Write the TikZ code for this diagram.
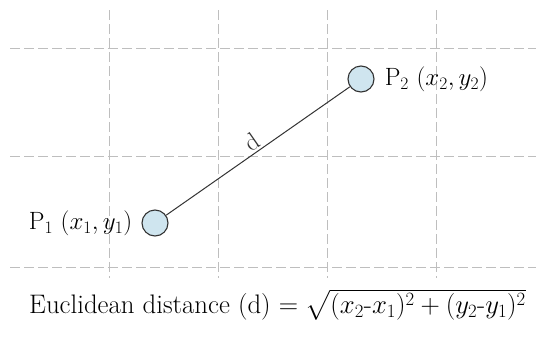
\RequirePackage{fix-cm}
\documentclass[tikz,border=0pt]{standalone}
\usepackage{amsmath}
\usetikzlibrary{positioning}
\definecolor{ptfill}{HTML}{CFE5EF}
\definecolor{gridgray}{HTML}{BEBEBE}

\begin{document}
\begin{tikzpicture}[x=1pt, y=-1pt,
  gridline/.style={gridgray, dash pattern=on 10pt off 4pt, line width=0.7pt},
  point/.style={circle, draw=black!80, fill=ptfill, line width=1.1pt,
    minimum size=26pt, inner sep=0pt},
  seg/.style={black!80, line width=1pt},
  lbl/.style={font=\fontsize{25}{30}\selectfont, inner sep=0pt}
]
  \useasboundingbox (0,0) rectangle (536,338);

  % Grid
  \foreach \x in {109,218,327,436}
    \draw[gridline] (\x,10) -- (\x,278);
  \foreach \y in {48,156,267}
    \draw[gridline] (10,\y) -- (536,\y);

  % Points
  \node[point] (p1) at (155,223) {};
  \node[point] (p2) at (361,79) {};
  \node[lbl, left=9pt of p1] (p1-lbl) {P$_1$ $(x_1, y_1)$};
  \node[lbl, right=10pt of p2] (p2-lbl) {P$_2$ $(x_2, y_2)$};

  % Distance
  \draw[seg] (p1) -- node[lbl, sloped, above=2pt] (d-lbl) {d} (p2);

  % Formula
  \node[lbl, font=\fontsize{26.8}{31}\selectfont, anchor=base west] (formula) at (29,313)
    {Euclidean distance (d) $= \sqrt{(x_2\text{-}x_1)^2 + (y_2\text{-}y_1)^2}$};
\end{tikzpicture}
\end{document}
